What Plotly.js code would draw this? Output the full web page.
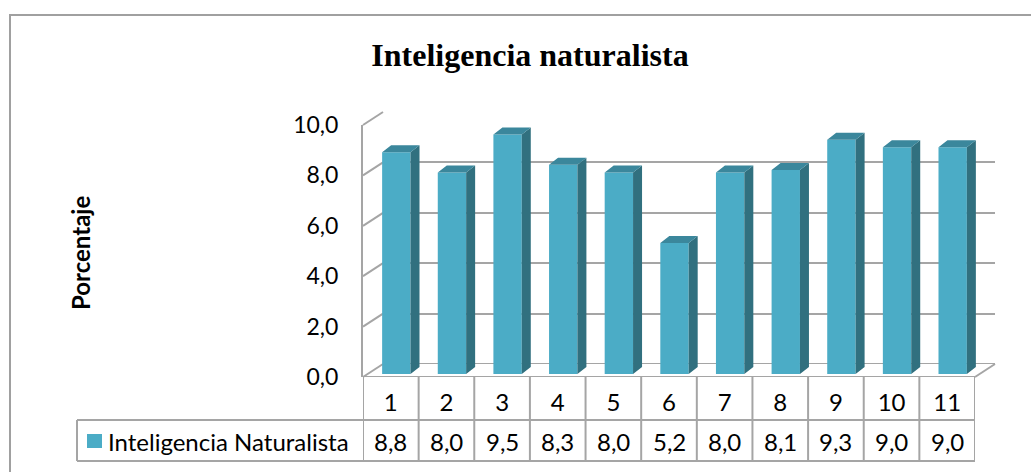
<!DOCTYPE html>
<html>
<head>
<meta charset="utf-8">
<script src="https://cdn.plot.ly/plotly-3.0.1.min.js"></script>
<style>html,body{margin:0;padding:0;background:#fff;}#chart{width:1031px;height:472px;}</style>
</head>
<body>
<div id="chart"></div>
<script>
// ---- data ----
const categories = ["1","2","3","4","5","6","7","8","9","10","11"];
const values = [8.8, 8.0, 9.5, 8.3, 8.0, 5.2, 8.0, 8.1, 9.3, 9.0, 9.0];
const seriesName = "Inteligencia Naturalista";
const chartTitle = "Inteligencia naturalista";
const yTitle = "Porcentaje";
const yTicks = [0, 2, 4, 6, 8, 10];

// ---- geometry (pixels) ----
const W = 1031, H = 472;
const PX = p => p / W, PY = p => 1 - p / H;
const FRONT = {l: 363, r: 975, y0: 377, y10: 125};
const DEPTH = {x: 20, y: 13};
const BACK = {l: FRONT.l + DEPTH.x, r: FRONT.r + DEPTH.x, y0: FRONT.y0 - DEPTH.y, y10: FRONT.y10 - DEPTH.y};
const BARP = {l: 368.5, r: 980.5, y0: 374, y10: 122};
const TABLE = {legendL: 77, rowMid: 420, bottom: 461};
const GRID = '#A5A5A5';
const FONT = 'Lato, Carlito, "Open Sans", sans-serif';
const FRONT_COL = '#4BACC6', TOP_COL = '#3B879C', SIDE_COL = '#31707F';
const TXT = 24;

const n = categories.length;
const xs = categories.map((c, i) => i);
const barW = 0.51;
const catPx = (FRONT.r - FRONT.l) / n;
const dX = 9 / catPx;                       // bar depth in category units
const dY = 7 / ((BARP.y0 - BARP.y10) / 10); // bar depth in value units

// side & top faces of the bars, derived from the values
const sideX = [], sideY = [], topX = [], topY = [];
values.forEach((v, i) => {
  const xl = i - barW / 2, xr = i + barW / 2;
  sideX.push(xr, xr + dX, xr + dX, xr, xr, null);
  sideY.push(0, dY, v + dY, v, 0, null);
  topX.push(xl, xr, xr + dX, xl + dX, xl, null);
  topY.push(v, v, v + dY, v + dY, v, null);
});

const traces = [
  {x: [0], y: [0], xaxis: 'x', yaxis: 'y', type: 'scatter', mode: 'markers',
   marker: {opacity: 0}, hoverinfo: 'skip', showlegend: false},
  {x: [0], y: [0], xaxis: 'x2', yaxis: 'y2', type: 'scatter', mode: 'markers',
   marker: {opacity: 0}, hoverinfo: 'skip', showlegend: false},
  {x: xs, y: values, xaxis: 'x3', yaxis: 'y3', type: 'bar', width: barW, name: seriesName,
   marker: {color: FRONT_COL, line: {width: 0}}, showlegend: false},
  {x: sideX, y: sideY, xaxis: 'x3', yaxis: 'y3', type: 'scatter', mode: 'lines', fill: 'toself',
   fillcolor: SIDE_COL, line: {width: 0, color: SIDE_COL}, hoverinfo: 'skip', showlegend: false},
  {x: topX, y: topY, xaxis: 'x3', yaxis: 'y3', type: 'scatter', mode: 'lines', fill: 'toself',
   fillcolor: TOP_COL, line: {width: 0, color: TOP_COL}, hoverinfo: 'skip', showlegend: false}
];

const shapes = [];
const line = (x0, y0, x1, y1, xref, yref, w) => shapes.push({type: 'line', x0, y0, x1, y1,
  xref: xref || 'paper', yref: yref || 'paper', line: {color: GRID, width: w || 2}, layer: 'below'});

// outer frame
shapes.push({type: 'rect', xref: 'paper', yref: 'paper', x0: PX(10), x1: 1.1, y0: -0.1, y1: PY(15),
  line: {color: '#A0A0A0', width: 2}, layer: 'below'});
// left-wall diagonals
const yF = v => FRONT.y0 - v / 10 * (FRONT.y0 - FRONT.y10);
const yB = v => BACK.y0 - v / 10 * (BACK.y0 - BACK.y10);
yTicks.forEach(v => line(PX(FRONT.l), PY(yF(v)), PX(BACK.l), PY(yB(v))));
// floor
line(PX(FRONT.r), PY(FRONT.y0), PX(BACK.r), PY(BACK.y0));
line(-0.5, 0, n - 0.5, 0, 'x2', 'y2');
line(-0.5, 0, n - 0.5, 0, 'x', 'y');
// table
for (let i = 0; i <= n; i++) line(i - 0.5, PY(FRONT.y0), i - 0.5, PY(TABLE.bottom), 'x2', 'paper');
line(PX(TABLE.legendL), PY(TABLE.rowMid), PX(FRONT.r), PY(TABLE.rowMid));
line(PX(TABLE.legendL), PY(TABLE.bottom), PX(FRONT.r), PY(TABLE.bottom));
line(PX(TABLE.legendL), PY(TABLE.rowMid), PX(TABLE.legendL), PY(TABLE.bottom));
// legend key
shapes.push({type: 'rect', xref: 'paper', yref: 'paper', x0: PX(87), x1: PX(102), y0: PY(448), y1: PY(434),
  fillcolor: FRONT_COL, line: {width: 0}});

const fmt = v => v.toFixed(1).replace('.', ',');
const annotations = values.map((v, i) => ({
  x: i, xref: 'x2', y: PY(441), yref: 'paper', text: fmt(v), showarrow: false,
  xanchor: 'center', yanchor: 'middle', font: {family: FONT, size: TXT, color: '#000'}
}));
annotations.push({x: PX(106), xref: 'paper', y: PY(441), yref: 'paper', text: seriesName, showarrow: false,
  xanchor: 'left', yanchor: 'middle', font: {family: FONT, size: TXT, color: '#000'}});
annotations.push({x: PX(80), xref: 'paper', y: PY(253), yref: 'paper', text: yTitle, showarrow: false,
  textangle: -90, xanchor: 'center', yanchor: 'middle',
  font: {family: FONT, size: 24, color: '#000', weight: 'bold'}});

const hidden = {visible: true, showgrid: false, zeroline: false, showline: false, showticklabels: false, ticks: ''};

const layout = {
  width: W, height: H, margin: {l: 0, r: 0, t: 0, b: 0},
  paper_bgcolor: '#fff', plot_bgcolor: 'rgba(0,0,0,0)',
  separators: ',.', showlegend: false,
  title: {text: chartTitle, x: PX(530), xanchor: 'center', y: PY(55), yanchor: 'middle',
    xref: 'paper', yref: 'paper',
    font: {family: '"Times New Roman", "Liberation Serif", serif', size: 32, color: '#000', weight: 'bold'}},
  xaxis: Object.assign({}, hidden, {domain: [PX(BACK.l), PX(BACK.r)], range: [-0.5, n - 0.5], anchor: 'y'}),
  yaxis: Object.assign({}, hidden, {domain: [PY(BACK.y0), PY(BACK.y10)], range: [0, 10], anchor: 'x',
    tickvals: yTicks, showgrid: true, gridcolor: GRID, gridwidth: 2}),
  xaxis2: Object.assign({}, hidden, {domain: [PX(FRONT.l), PX(FRONT.r)], range: [-0.5, n - 0.5], anchor: 'y2',
    showticklabels: true, tickvals: xs, ticktext: categories, ticks: 'outside', ticklen: 4,
    tickcolor: 'rgba(0,0,0,0)', tickfont: {family: FONT, size: TXT, color: '#000'}}),
  yaxis2: Object.assign({}, hidden, {domain: [PY(FRONT.y0), PY(FRONT.y10)], range: [0, 10], anchor: 'x2',
    showticklabels: true, tickvals: yTicks, tickformat: '.1f', ticks: 'outside', ticklen: 18,
    tickcolor: 'rgba(0,0,0,0)', tickfont: {family: FONT, size: 23, color: '#000'},
    showline: true, linecolor: GRID, linewidth: 2}),
  xaxis3: Object.assign({}, hidden, {domain: [PX(BARP.l), PX(BARP.r)], range: [-0.5, n - 0.5], anchor: 'y3'}),
  yaxis3: Object.assign({}, hidden, {domain: [PY(BARP.y0), PY(BARP.y10)], range: [0, 10], anchor: 'x3'}),
  shapes, annotations
};

Plotly.newPlot('chart', traces, layout, {staticPlot: true, displayModeBar: false});
</script>
</body>
</html>
